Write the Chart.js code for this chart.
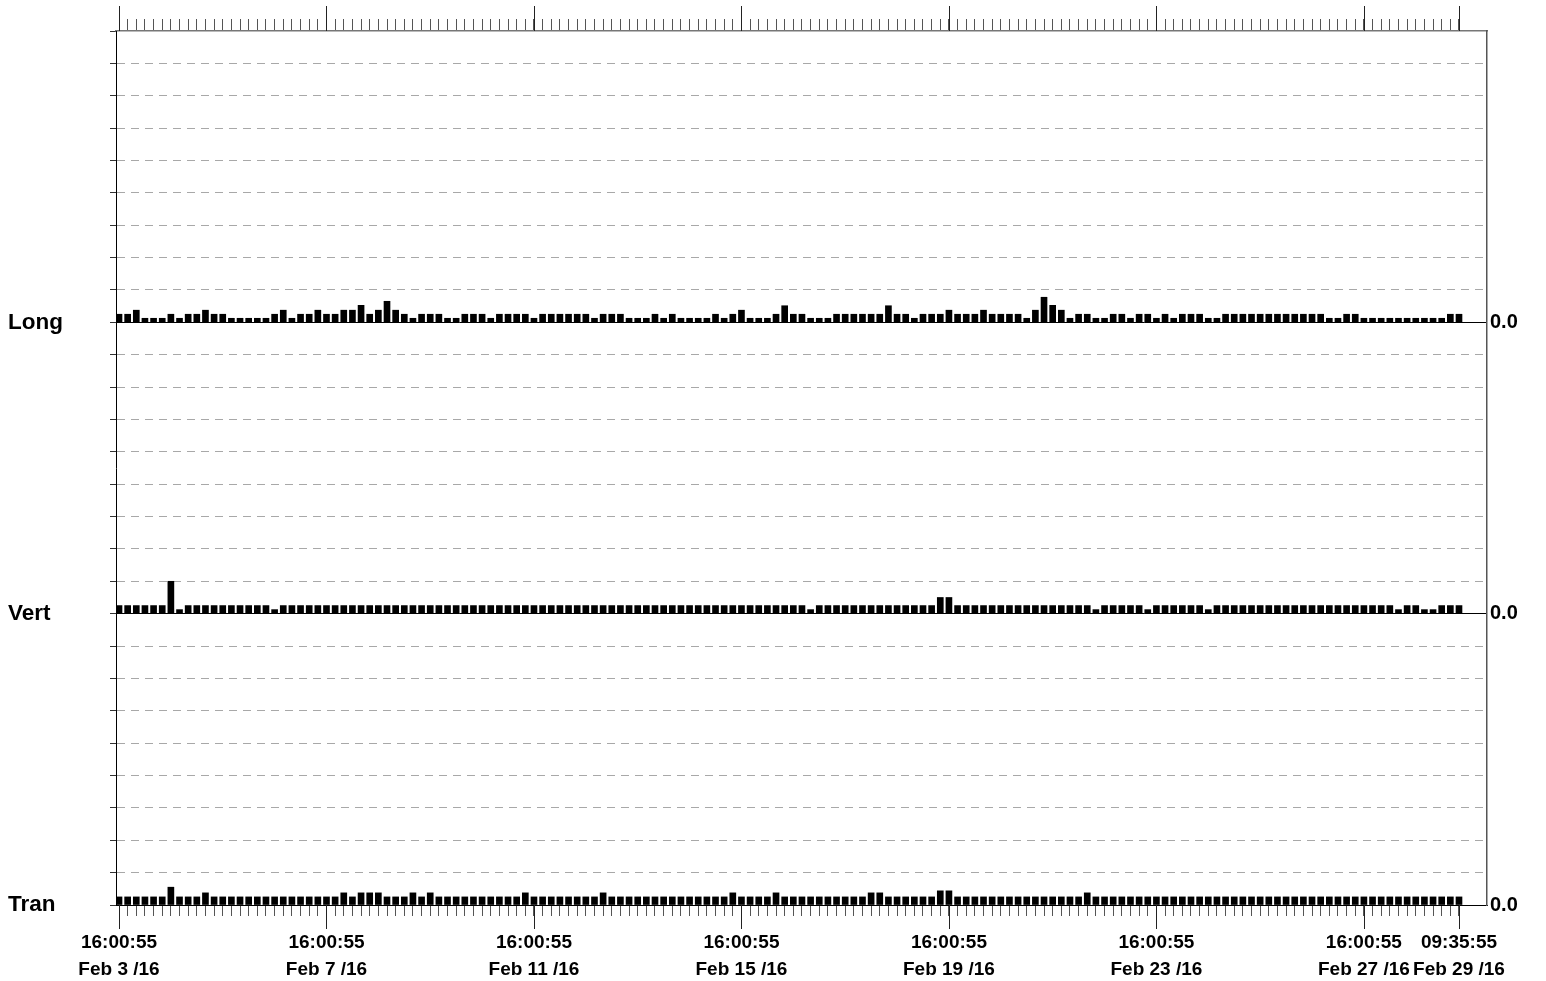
<!DOCTYPE html>
<html><head><meta charset="utf-8">
<script src="https://cdn.jsdelivr.net/npm/chart.js@4.4.1/dist/chart.umd.min.js"></script>
<style>html,body{margin:0;padding:0;background:#fff;overflow:hidden}#wrap{width:1546px;height:981px}</style>
</head><body><div id="wrap"><canvas id="c" width="1546" height="981"></canvas></div>
<script>
// ---- data ----
const panelNames = ['Long', 'Vert', 'Tran'];
const rightLabel = '0.0';
const tickHours = [0, 96, 192, 288, 384, 480, 576, 620];
const tickTimes = ['16:00:55','16:00:55','16:00:55','16:00:55','16:00:55','16:00:55','16:00:55','09:35:55'];
const tickDates = ['Feb 3 /16','Feb 7 /16','Feb 11 /16','Feb 15 /16','Feb 19 /16','Feb 23 /16','Feb 27 /16','Feb 29 /16'];
const barStepHours = 4;

const longValues = [
  2,2,3,1,1,1,2,1,2,2,
  3,2,2,1,1,1,1,1,2,3,
  1,2,2,3,2,2,3,3,4.2,2,
  3,5.2,3,2,1,2,2,2,1,1,
  2,2,2,1,2,2,2,2,1,2,
  2,2,2,
  2,2,1,2,2,2,1,
  1,1,2,1,2,1,1,1,1,2,
  1,2,3,1,1,1,2,4.1,2,2,
  1,1,1,2,2,2,2,2,2,4.1,
  2,2,1,2,2,2,3,2,2,2,
  3,2,2,2,2,1,3,
  6.2,4.2,3,
  1,2,2,1,1,2,2,1,2,2,
  1,2,1,2,2,2,1,1,2,2,
  2,2,2,2,2,2,2,2,2,2,
  1,1,2,2,1,1,1,1,1,1,
  1,1,1,1,2,2
];
const vertValues = [
  2,2,2,2,2,2,8,1,2,2,
  2,2,2,2,2,2,2,2,1,2,
  2,2,2,2,2,2,2,2,2,2,
  2,2,2,2,2,2,2,2,2,2,
  2,2,2,2,2,2,2,2,2,2,
  2,2,2,2,2,2,2,2,2,2,
  2,2,2,2,2,2,2,2,2,2,
  2,2,2,2,2,2,2,2,2,2,
  1,2,2,2,2,2,2,2,2,2,
  2,2,2,2,2,4,4,2,2,2,
  2,2,2,2,2,2,2,2,2,2,
  2,2,2,1,2,2,2,2,2,1,
  2,2,2,2,2,2,1,2,2,2,
  2,2,2,2,2,2,2,2,2,2,
  2,2,2,2,2,2,2,2,1,2,
  2,1,1,2,2,2
];
const tranValues = [
  2,2,2,2,2,2,4.4,2,2,2,
  3,2,2,2,2,2,2,2,2,2,
  2,2,2,2,2,2,3,2,3,3,
  3,2,2,2,3,2,3,2,2,2,
  2,2,2,2,2,2,2,3,2,2,
  2,2,2,2,2,2,3,2,2,2,
  2,2,2,2,2,2,2,2,2,2,
  2,3,2,2,2,2,3,2,2,2,
  2,2,2,2,2,2,2,3,3,2,
  2,2,2,2,2,3.5,3.5,2,2,2,
  2,2,2,2,2,2,2,2,2,2,
  2,2,3,2,2,2,2,2,2,2,
  2,2,2,2,2,2,2,2,2,2,
  2,2,2,2,2,2,2,2,2,2,
  2,2,2,2,2,2,2,2,2,2,
  2,2,2,2,2,2
];

// ---- scale set-up ----
const gridStep = 8;
const panelSpan = 72;
const panelBase = { Long: 144, Vert: 72, Tran: 0 };
const hours = longValues.map((_, i) => i * barStepHours);
const gridValues = [];
for (let v = 0; v <= panelSpan * 3; v += gridStep) gridValues.push(v);

function floating(values, base) {
  return values.map((v, i) => ({ x: hours[i], y: [base, base + v] }));
}
function panelLabel(v) {
  for (const name of panelNames) if (panelBase[name] === v) return name;
  return '';
}

Chart.defaults.font.family = "'Liberation Sans', Arial, sans-serif";
Chart.defaults.color = '#000';

const FONT_SIDE = { size: 22.5, weight: 'bold' };
const FONT_AXIS = { size: 19, weight: 'bold', lineHeight: 1.42 };
const FONT_RIGHT = { size: 20, weight: 'bold' };
const X_MIN = -1.39, X_MAX = 632.96;

const majorTicks = {
  id: 'majorTicks',
  afterDraw(chart) {
    const { ctx, chartArea, scales } = chart;
    const x = scales.x;
    ctx.save();
    ctx.strokeStyle = '#222';
    ctx.lineWidth = 1;
    tickHours.forEach(h => {
      const px = Math.round(x.getPixelForValue(h)) + 0.5;
      ctx.beginPath();
      ctx.moveTo(px, chartArea.bottom); ctx.lineTo(px, chartArea.bottom + 24);
      ctx.moveTo(px, chartArea.top - 25); ctx.lineTo(px, chartArea.top);
      ctx.stroke();
    });
    ctx.restore();
  }
};

const hourTicks = s => { s.ticks = hours.map(h => ({ value: h })); };
const gridTicks = s => { s.ticks = gridValues.map(v => ({ value: v })); };
const barStyle = { backgroundColor: '#000', borderColor: '#000', borderWidth: 0, barThickness: 6, grouped: false };

new Chart(document.getElementById('c'), {
  type: 'bar',
  data: {
    datasets: [
      Object.assign({ label: 'Long', data: floating(longValues, panelBase.Long) }, barStyle),
      Object.assign({ label: 'Vert', data: floating(vertValues, panelBase.Vert) }, barStyle),
      Object.assign({ label: 'Tran', data: floating(tranValues, panelBase.Tran) }, barStyle)
    ]
  },
  options: {
    responsive: false,
    animation: false,
    devicePixelRatio: 1,
    layout: { padding: { left: 8, top: 0, right: 0, bottom: 0 } },
    plugins: { legend: { display: false }, tooltip: { enabled: false }, colors: { enabled: false } },
    scales: {
      x: {
        type: 'linear', position: 'bottom', min: X_MIN, max: X_MAX, offset: false,
        afterBuildTicks: hourTicks,
        afterFit: s => { s.height = 76; },
        grid: { offset: false, drawOnChartArea: false, tickLength: 11, color: '#555', tickColor: '#555' },
        border: { color: '#000' },
        ticks: {
          autoSkip: false, maxRotation: 0, padding: 13, font: FONT_AXIS, color: '#000',
          callback: v => { const k = tickHours.indexOf(v); return k < 0 ? '' : [tickTimes[k], tickDates[k]]; }
        }
      },
      xTop: {
        type: 'linear', position: 'top', min: X_MIN, max: X_MAX, offset: false,
        afterBuildTicks: hourTicks,
        afterFit: s => { s.height = 31; },
        grid: { offset: false, drawOnChartArea: false, tickLength: 12, color: '#555', tickColor: '#555' },
        border: { color: '#777', width: 1.5 },
        ticks: { display: false }
      },
      y: {
        type: 'linear', position: 'left', min: 0, max: panelSpan * 3,
        afterBuildTicks: gridTicks,
        afterFit: s => { s.width = 108; },
        grid: {
          tickLength: 6, tickColor: '#333',
          color: ctx => {
            const v = ctx.tick ? ctx.tick.value : 0;
            if (v === panelSpan * 3) return 'rgba(0,0,0,0)';
            return v % panelSpan === 0 ? '#000' : '#a8a8a8';
          }
        },
        border: {
          color: '#000',
          dash: ctx => (ctx.tick && ctx.tick.value % panelSpan !== 0) ? [8, 6] : []
        },
        ticks: { autoSkip: false, crossAlign: 'far', font: FONT_SIDE, color: '#000', callback: v => panelLabel(v) }
      },
      y2: {
        type: 'linear', position: 'right', min: 0, max: panelSpan * 3,
        afterBuildTicks: gridTicks,
        afterFit: s => { s.width = 59; },
        grid: { drawOnChartArea: false, drawTicks: false },
        border: { color: '#555', width: 1.5 },
        ticks: { autoSkip: false, padding: 3, font: FONT_RIGHT, color: '#000',
          callback: v => (panelLabel(v) ? rightLabel : '') }
      }
    }
  },
  plugins: [majorTicks]
});
</script>
</body></html>
